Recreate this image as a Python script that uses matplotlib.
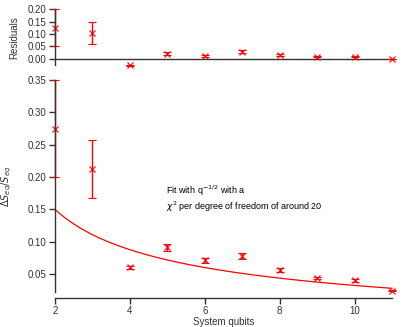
import numpy as np
import matplotlib.pyplot as plt

plt.rcParams['font.family'] = ['Liberation Sans', 'DejaVu Sans']

qubits = [2, 3, 4, 5, 6, 7, 8, 9, 10, 11]
ratio = [0.275, 0.213, 0.060, 0.091, 0.071, 0.078, 0.056, 0.044, 0.040, 0.024]
ratio_err = [0.075, 0.045, 0.003, 0.006, 0.004, 0.005, 0.003, 0.002, 0.002, 0.001]
resid = [0.125, 0.103, -0.027, 0.020, 0.012, 0.029, 0.014, 0.008, 0.008, -0.002]
resid_err = [0.075, 0.045, 0.003, 0.006, 0.004, 0.005, 0.003, 0.002, 0.002, 0.001]

# fit parameters: a * q^-1/2 + b
fit_a = 0.301
fit_b = -0.063

red = '#ff0000'
grey = '#333333'
fs = 7

fig = plt.figure(figsize=(4.15, 3.27), dpi=100)
ax = fig.add_axes([0.1325, 0.107, 0.812, 0.648])
axr = fig.add_axes([0.1325, 0.80, 0.812, 0.172])

def style(a):
    for s in ['top', 'right']:
        a.spines[s].set_visible(False)
    for s in ['left', 'bottom']:
        a.spines[s].set_color(grey)
        a.spines[s].set_linewidth(1.0)
    a.tick_params(labelsize=fs, colors=grey, length=4, width=1.0, pad=2)
    a.set_facecolor('none')

style(ax)
ax.errorbar(qubits, ratio, yerr=ratio_err, fmt='x', color=red, ms=5, mew=0.8,
            ecolor=red, elinewidth=1.0, capsize=3, capthick=1.0, clip_on=False)
qq = np.linspace(2, 11, 200)
ax.plot(qq, fit_a / np.sqrt(qq) + fit_b, color=red, lw=0.9, clip_on=False)
ax.set_xlim(2, 11)
ax.set_ylim(0.022, 0.35)
ax.set_xticks([2, 4, 6, 8, 10])
ax.set_yticks([0.05, 0.10, 0.15, 0.20, 0.25, 0.30, 0.35])
ax.yaxis.set_major_formatter(plt.FormatStrFormatter('%.2f'))
ax.spines['bottom'].set_position(('outward', 4))
ax.set_xlabel('System qubits', fontsize=fs, color=grey, labelpad=0.5)
ax.set_ylabel(r'$\Delta S_{eq}/S_{eq}$', fontsize=fs, color=grey, labelpad=10)
ax.text(0.33, 0.44, 'Fit with q$^{-1/2}$ with a\n$\\chi^2$ per degree of freedom of around 20',
        transform=ax.transAxes, fontsize=6.5, color='black', va='center', linespacing=1.1)

style(axr)
axr.spines['bottom'].set_visible(False)
axr.tick_params(axis='x', bottom=False, labelbottom=False)
axr.axhline(0, color=grey, lw=1.0, xmax=1.01, clip_on=False)
axr.errorbar(qubits, resid, yerr=resid_err, fmt='x', color=red, ms=5, mew=0.8,
             ecolor=red, elinewidth=1.0, capsize=3, capthick=1.0, clip_on=False)
axr.set_xlim(2, 11)
axr.set_ylim(-0.027, 0.20)
axr.set_yticks([0.0, 0.05, 0.10, 0.15, 0.20])
axr.yaxis.set_major_formatter(plt.FormatStrFormatter('%.2f'))
axr.set_ylabel('Residuals', fontsize=fs, color=grey, labelpad=6)

fig.savefig('out.png', dpi=100)
